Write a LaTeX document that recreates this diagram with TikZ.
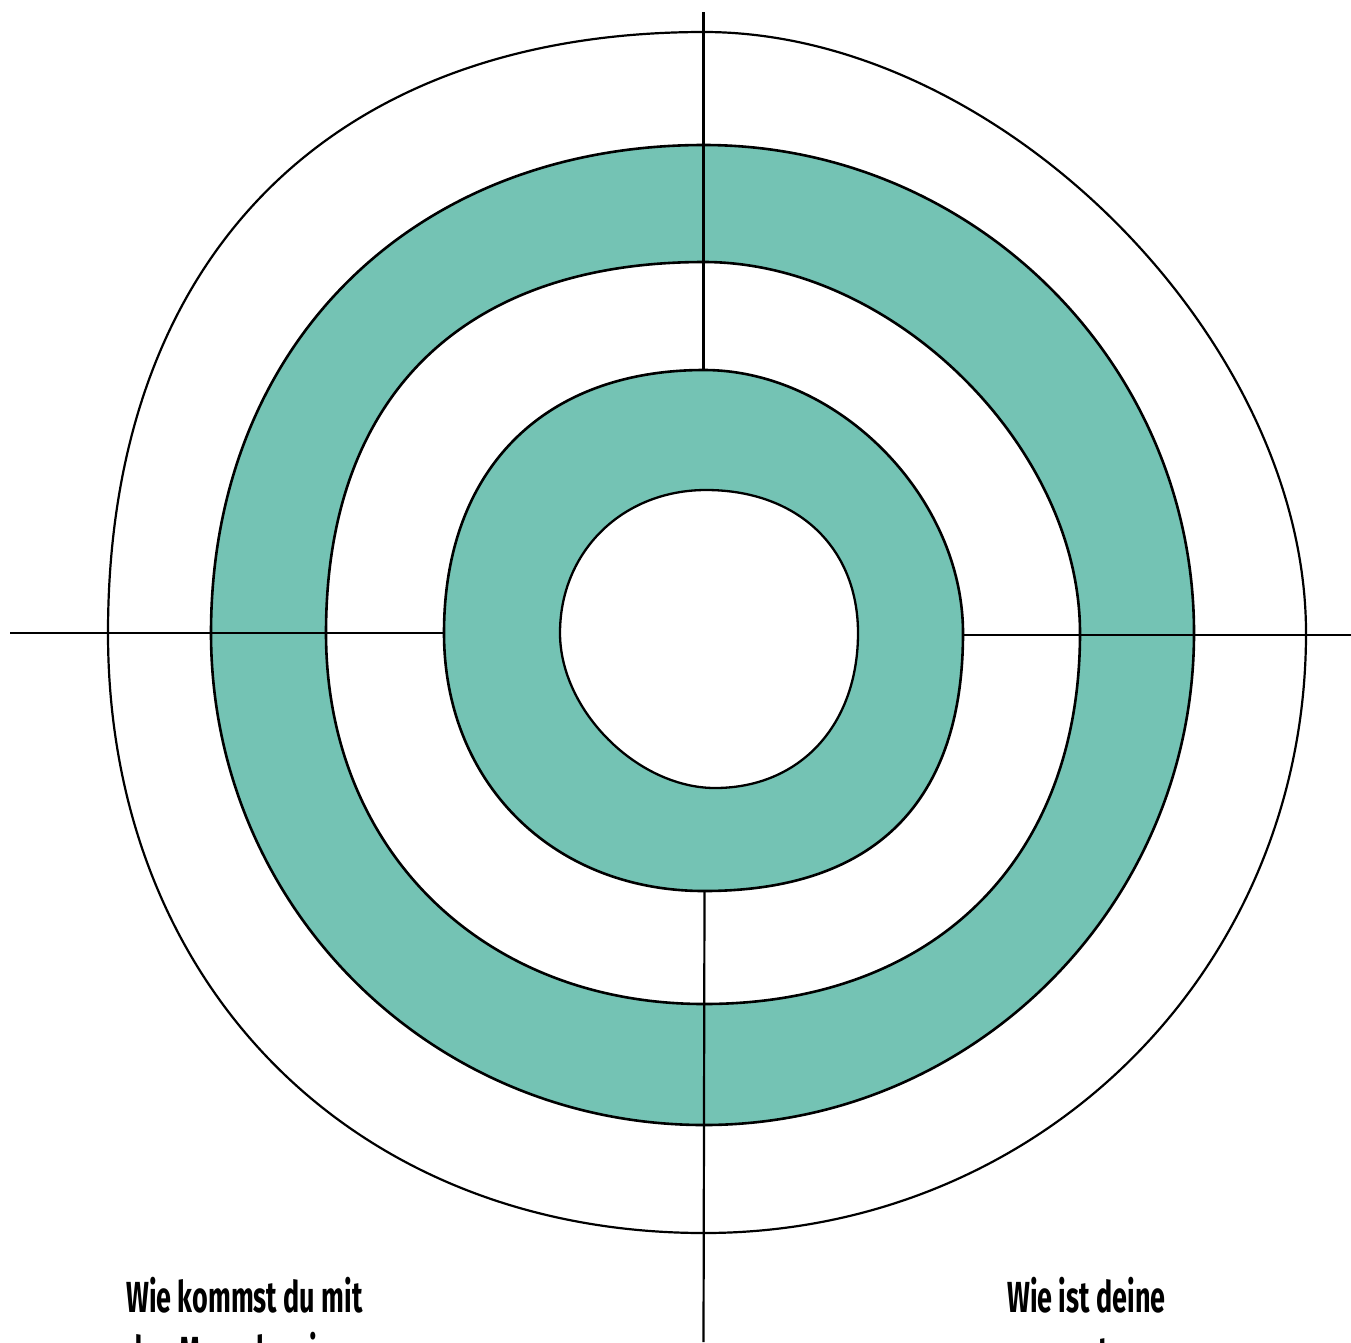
\documentclass[tikz,border=0pt]{standalone}
\usepackage{fontspec}
\newfontfamily\labelfont{Fira Sans}[FakeStretch=0.62]
\definecolor{teal1}{HTML}{74C3B4}
\begin{document}
\begin{tikzpicture}[x=1pt,y=-1pt,
  ring/.style={draw=black,line width=2.6pt,line join=round},
  axis/.style={draw=black,line width=2.2pt},
  qlabel/.style={anchor=base west,inner sep=0pt,font=\labelfont\bfseries\fontsize{43.5}{52}\selectfont}]
\path[use as bounding box,clip] (0,0) rectangle (1351,1342);
\fill[white] (0,0) rectangle (1351,1342);
% outer white circle
\draw[ring,line width=2.2pt,fill=white] (704,32)
  .. controls (1000,32) and (1306,340) .. (1306,633)
  .. controls (1306,969) and (1041,1233) .. (704,1233)
  .. controls (354,1233) and (108,985) .. (108,633)
  .. controls (108,257) and (331,32) .. cycle;
% outer teal band
\draw[ring,fill=teal1] (704,145)
  .. controls (974,145) and (1194,364) .. (1194,633)
  .. controls (1194,905) and (974,1125) .. (704,1125)
  .. controls (430,1125) and (211,906) .. (211,633)
  .. controls (211,345) and (413,145) .. cycle;
% white gap
\draw[ring,fill=white] (704,262)
  .. controls (893,262) and (1080,447) .. (1080,633)
  .. controls (1080,860) and (934,1004) .. (704,1004)
  .. controls (483,1004) and (326,850) .. (326,633)
  .. controls (326,396) and (463,262) .. cycle;
% inner teal band
\draw[ring,fill=teal1] (704,370)
  .. controls (838,370) and (963,497) .. (963,633)
  .. controls (963,803) and (874,891) .. (704,891)
  .. controls (553,891) and (444,783) .. (444,633)
  .. controls (444,470) and (543,370) .. cycle;
% centre hole
\draw[ring,line width=2.3pt,fill=white] (706,490)
  .. controls (797,490) and (858,547) .. (858,633)
  .. controls (858,725) and (800,788) .. (715,788)
  .. controls (638,788) and (560,711) .. (560,633)
  .. controls (560,551) and (623,490) .. cycle;
% axes
\coordinate (lA) at (10,633);  \coordinate (lB) at (444,633);
\coordinate (rA) at (963,635); \coordinate (rB) at (1351,635);
\coordinate (tA) at (703.5,12); \coordinate (tB) at (703.5,370);
\coordinate (bA) at (704.5,891); \coordinate (bB) at (703.5,1342);
\draw[axis] (lA) -- (lB);
\draw[axis] (rA) -- (rB);
\draw[axis] (tA) -- (tB);
\draw[axis] (bA) -- (bB);
% labels
\node[qlabel] (q1a) at (126,1312) {Wie kommst du mit};
\node[qlabel] (q1b) at (126,1367) {den Menschen in unserer};
\node[qlabel] (q2a) at (1007,1312) {Wie ist deine};
\node[qlabel] (q2b) at (1007,1367) {momentane};
\end{tikzpicture}
\end{document}
